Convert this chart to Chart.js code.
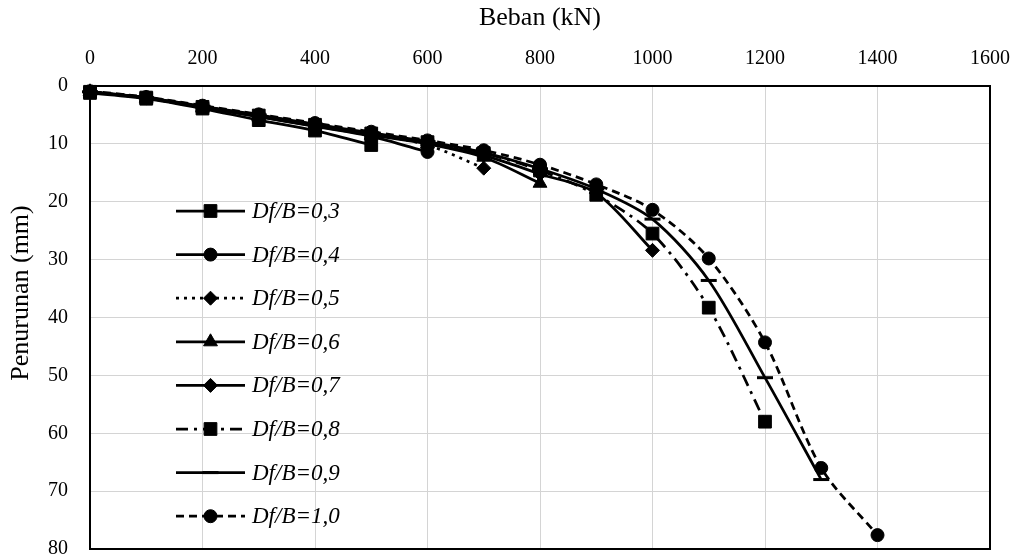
<!DOCTYPE html>
<html>
<head>
<meta charset="utf-8">
<script src="https://cdn.jsdelivr.net/npm/chart.js@4/dist/chart.umd.min.js"></script>
<style>
  html, body { margin: 0; padding: 0; background: #fff; }
  #wrap { width: 1015px; height: 560px; position: relative; }
</style>
</head>
<body>
<div id="wrap"><canvas id="grafik"></canvas></div>
<script>
// Beban (kN) tiap titik
const beban = [0, 100, 200, 300, 400, 500, 600, 700, 800, 900, 1000, 1100, 1200, 1300, 1400]

// Penurunan (mm) per Df/B
const s03 = [1.2, 2.2, 3.9, 5.9, 7.7, 10.2]
const s04 = [1.0, 2.1, 3.7, 5.3, 7.0, 8.7, 11.4]
const s05 = [1.0, 2.0, 3.6, 5.1, 6.7, 8.3, 10.2, 14.2]
const s06 = [1.0, 2.1, 3.7, 5.3, 6.9, 8.5, 10.0, 12.3, 16.8]
const s07 = [1.0, 2.0, 3.6, 5.2, 6.8, 8.3, 9.9, 12.0, 15.2, 18.5, 28.4]
const s08 = [1.0, 2.0, 3.6, 5.1, 6.7, 8.2, 9.7, 11.6, 14.6, 18.8, 25.5, 38.3, 58.0]
const s09 = [1.0, 2.0, 3.5, 5.0, 6.6, 8.1, 9.6, 11.5, 14.3, 17.8, 23.0, 33.6, 50.4, 68.0]
const s10 = [0.9, 1.9, 3.4, 4.9, 6.4, 7.9, 9.4, 11.1, 13.6, 17.0, 21.4, 29.8, 44.3, 66.0, 77.6]

const labelSeri = ["Df/B=0,3", "Df/B=0,4", "Df/B=0,5", "Df/B=0,6", "Df/B=0,7", "Df/B=0,8", "Df/B=0,9", "Df/B=1,0"]
const xTicks = [0, 200, 400, 600, 800, 1000, 1200, 1400, 1600]
const yTicks = [0, 10, 20, 30, 40, 50, 60, 70, 80]

const FONT = "'Liberation Serif', 'Times New Roman', serif"

// pasangkan beban dengan penurunan
function titik(arr) {
  return arr.map((v, i) => ({ x: beban[i], y: v }))
}

function seri(label, arr, style, radius, dash) {
  return {
    label: label,
    data: titik(arr),
    borderColor: "#000",
    backgroundColor: "#000",
    borderWidth: 2.75,
    borderDash: dash || [],
    tension: 0.3,
    pointStyle: style,
    pointRadius: radius,
    pointHoverRadius: radius,
    pointBackgroundColor: "#000",
    pointBorderColor: "#000",
    pointBorderWidth: style === "line" ? 3 : 1,
    clip: false,
  }
}

const datasets = [
  seri(labelSeri[0], s03, "rect", 9),
  seri(labelSeri[1], s04, "circle", 6.5),
  seri(labelSeri[2], s05, "rectRot", 7, [3, 5]),
  seri(labelSeri[3], s06, "triangle", 8),
  seri(labelSeri[4], s07, "rectRot", 7),
  seri(labelSeri[5], s08, "rect", 9, [12, 6, 3, 6]),
  seri(labelSeri[6], s09, "line", 8),
  seri(labelSeri[7], s10, "circle", 6.5, [8, 5]),
]

// bingkai hitam di sekeliling area plot + judul sumbu Y
const bingkai = {
  id: "bingkai",
  beforeDatasetsDraw(chart, args, opts) {
    const { ctx, chartArea: a } = chart
    ctx.save()
    ctx.strokeStyle = "#000"
    ctx.lineWidth = 2
    ctx.strokeRect(a.left, a.top, a.right - a.left, a.bottom - a.top)
    // judul sumbu Y (sedikit di atas tengah, seperti aslinya)
    ctx.translate(opts.titleX, opts.titleY)
    ctx.rotate(-Math.PI / 2)
    ctx.fillStyle = "#000"
    ctx.font = "26px " + FONT
    ctx.textAlign = "center"
    ctx.textBaseline = "middle"
    ctx.fillText("Penurunan (mm)", 0, 0)
    ctx.restore()
  },
}

// legenda di dalam area plot
const legenda = {
  id: "legenda",
  afterDatasetsDraw(chart, args, opts) {
    const ctx = chart.ctx
    ctx.save()
    chart.data.datasets.forEach((ds, i) => {
      const y = opts.top + i * opts.gap
      ctx.strokeStyle = "#000"
      ctx.lineWidth = ds.borderWidth
      ctx.setLineDash(ds.borderDash)
      ctx.beginPath()
      ctx.moveTo(opts.x0, y)
      ctx.lineTo(opts.x1, y)
      ctx.stroke()
      ctx.setLineDash([])
      ctx.fillStyle = "#000"
      ctx.lineWidth = ds.pointBorderWidth
      Chart.helpers.drawPoint(ctx, { pointStyle: ds.pointStyle, radius: ds.pointRadius, borderWidth: ds.pointBorderWidth, rotation: 0 }, (opts.x0 + opts.x1) / 2, y)
      ctx.font = "italic 23px " + FONT
      ctx.textBaseline = "middle"
      ctx.textAlign = "left"
      ctx.fillText(ds.label, opts.xText, y + 1)
    })
    ctx.restore()
  },
}

new Chart(document.getElementById("grafik"), {
  type: "line",
  data: { datasets: datasets },
  plugins: [bingkai, legenda],
  options: {
    responsive: true,
    maintainAspectRatio: false,
    animation: false,
    layout: { padding: { top: 0, right: 25, bottom: 10, left: 0 } },
    plugins: {
      legend: { display: false },
      tooltip: { enabled: false },
      bingkai: { titleX: 21, titleY: 293 },
      legenda: { x0: 176, x1: 245, xText: 252, top: 211, gap: 43.6 },
    },
    scales: {
      x: {
        type: "linear",
        position: "top",
        min: 0,
        max: 1600,
        afterBuildTicks: (s) => { s.ticks = xTicks.map((v) => ({ value: v })) },
        afterFit: (s) => { s.height = 86; s.paddingLeft = 0; s.paddingRight = 0 },
        grid: { color: "#d4d4d4", lineWidth: 1, drawTicks: false },
        border: { color: "#000", width: 2 },
        ticks: { color: "#000", font: { family: FONT, size: 20 }, padding: 15, maxRotation: 0, callback: (v) => String(v) },
        title: { display: true, text: "Beban (kN)", color: "#000", font: { family: FONT, size: 26 }, padding: { top: 3, bottom: 0 } },
      },
      y: {
        type: "linear",
        reverse: true,
        min: 0,
        max: 80,
        afterBuildTicks: (s) => { s.ticks = yTicks.map((v) => ({ value: v })) },
        afterFit: (s) => { s.width = 90; s.paddingTop = 0; s.paddingBottom = 0 },
        grid: { color: "#d4d4d4", lineWidth: 1, drawTicks: false },
        border: { color: "#000", width: 2 },
        ticks: { color: "#000", font: { family: FONT, size: 20 }, padding: 22, callback: (v) => String(v) },
        title: { display: false },
      },
    },
  },
})
</script>
</body>
</html>
